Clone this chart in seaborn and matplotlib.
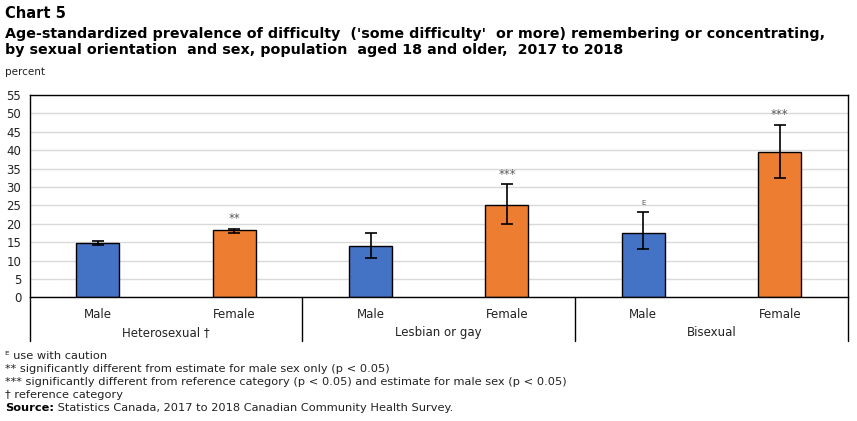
import matplotlib
matplotlib.use("Agg")
import matplotlib.pyplot as plt
import seaborn as sns
import pandas as pd
from matplotlib.lines import Line2D

# ---- data ----
orientations = ["Heterosexual \u2020", "Heterosexual \u2020", "Lesbian or gay", "Lesbian or gay", "Bisexual", "Bisexual"]
sexes = ["Male", "Female", "Male", "Female", "Male", "Female"]
values = [14.7, 18.2, 13.9, 25.0, 17.4, 39.4]
err_low = [14.1, 17.6, 10.8, 19.8, 13.0, 32.4]
err_high = [15.2, 18.7, 17.6, 30.7, 23.1, 46.8]
marks = ["", "**", "", "***", "E", "***"]
group_labels = ["Heterosexual \u2020", "Lesbian or gay", "Bisexual"]
y_ticks = list(range(0, 56, 5))

title_lines = ["Chart 5",
               "Age-standardized prevalence of difficulty  ('some difficulty'  or more) remembering or concentrating,",
               "by sexual orientation  and sex, population  aged 18 and older,  2017 to 2018"]
footnotes = ["\u1d31 use with caution",
             "** significantly different from estimate for male sex only (p < 0.05)",
             "*** significantly different from reference category (p < 0.05) and estimate for male sex (p < 0.05)",
             "\u2020 reference category"]
source_label = "Source:"
source_text = " Statistics Canada, 2017 to 2018 Canadian Community Health Survey."

sns.set_theme(style="white")
plt.rcParams['font.family'] = ['DejaVu Sans']

df = pd.DataFrame({"cat": [f"{o}|{s}|{i}" for i, (o, s) in enumerate(zip(orientations, sexes))],
                   "sex": sexes, "value": values})

fig = plt.figure(figsize=(8.57, 4.21), dpi=100)
ax = fig.add_axes([29.5/857, 1-297.3/421, (848-29.5)/857, (297.3-95)/421])

palette = {"Male": "#4472C4", "Female": "#ED7D31"}
sns.barplot(data=df, x="cat", y="value", hue="sex", palette=palette, dodge=False,
            width=0.315, edgecolor="black", linewidth=1.0, legend=False, ax=ax, saturation=1)

xs = list(range(len(values)))
yerr = [[v - l for v, l in zip(values, err_low)], [h - v for v, h in zip(values, err_high)]]
ax.errorbar(xs, values, yerr=yerr, fmt="none", ecolor="black", elinewidth=1.2, capsize=4, capthick=1.2, zorder=5)

for x, h, m in zip(xs, err_high, marks):
    if m == "E":
        ax.text(x, h + 1.7, m, ha="center", va="bottom", fontsize=5, color="#595959")
    elif m:
        ax.text(x, h + 1.0, m, ha="center", va="bottom", fontsize=8.5, color="#595959")

ax.set_ylim(0, 55)
ax.set_xlim(-0.5, len(values) - 0.5)
ax.set_yticks(y_ticks)
ax.set_yticklabels([str(t) for t in y_ticks], fontsize=8.5, color="#222222")
ax.tick_params(axis="y", length=0, pad=6)
ax.grid(axis="y", color="#d9d9d9", linewidth=1)
ax.set_axisbelow(True)
ax.set_xlabel("")
ax.set_ylabel("")
ax.set_xticks(xs)
ax.set_xticklabels(sexes, fontsize=8.5, color="#222222")
ax.tick_params(axis="x", length=0, pad=8)
for s in ax.spines.values():
    s.set_color("black")
    s.set_linewidth(1.0)

# group labels and dividers
trans = ax.get_xaxis_transform()
for gi, g in enumerate(group_labels):
    ax.text(gi * 2 + 0.5, -0.175, g, transform=trans, ha="center", va="center", fontsize=8.5, color="#222222")
for xd in [-0.5, 1.5, 3.5, 5.5]:
    ax.add_line(Line2D([xd, xd], [0, -43.5/202.3], transform=trans, color="black", linewidth=1.0, clip_on=False))

# titles
fig.text(5/857, 1-14/421, title_lines[0], fontsize=10.5, fontweight="bold", va="center", ha="left", color="black")
fig.text(5/857, 1-34/421, title_lines[1], fontsize=10.3, fontweight="bold", va="center", ha="left", color="black")
fig.text(5/857, 1-50/421, title_lines[2], fontsize=10.3, fontweight="bold", va="center", ha="left", color="black")
fig.text(5/857, 1-72/421, "percent", fontsize=7.5, va="center", ha="left", color="#222222")

ys = [356, 369, 382, 395]
for y, t in zip(ys, footnotes):
    fig.text(5/857, 1-y/421, t, fontsize=8.2, va="center", ha="left", color="#222222")
src = fig.text(5/857, 1-408/421, source_label, fontsize=8.2, fontweight="bold", va="center", ha="left", color="black")
fig.canvas.draw()
bb = src.get_window_extent()
fig.text(bb.x1/857, 1-408/421, source_text, fontsize=8.2, va="center", ha="left", color="#222222")

fig.savefig("out.png", dpi=100)
